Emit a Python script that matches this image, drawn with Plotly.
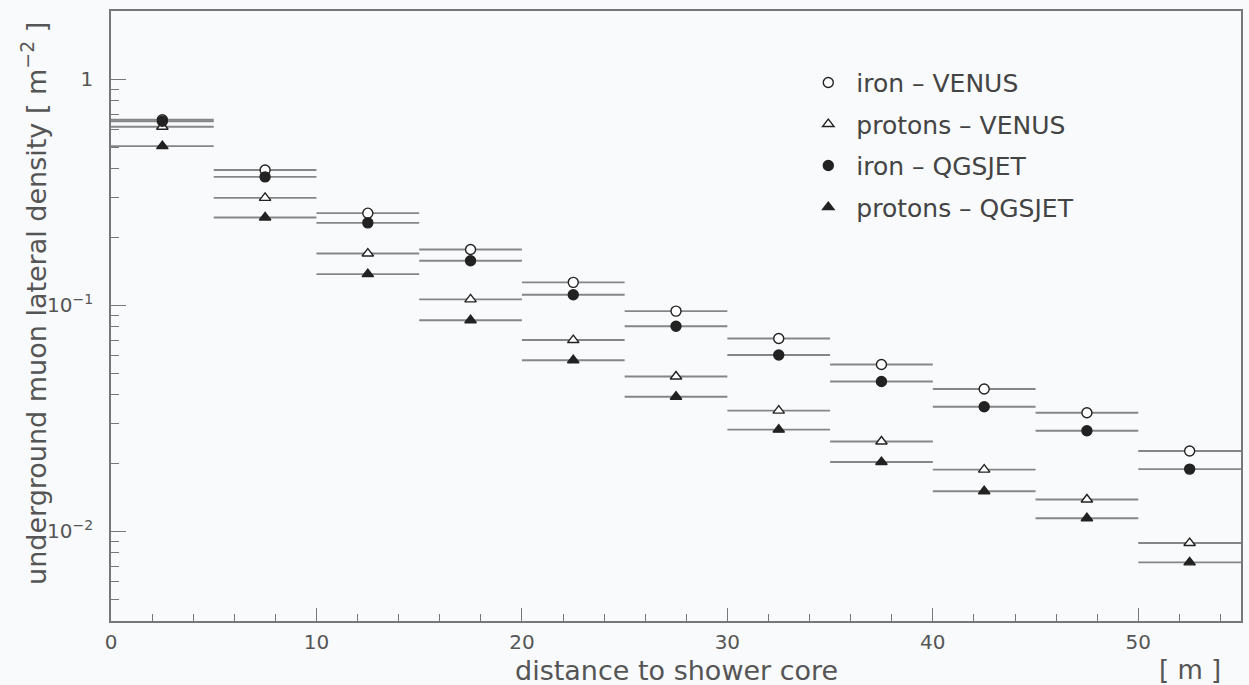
import plotly.graph_objects as go

# Radial bins (m): centres and half-widths
r_center = [2.5, 7.5, 12.5, 17.5, 22.5, 27.5, 32.5, 37.5, 42.5, 47.5, 52.5]
r_halfwidth = [2.5] * len(r_center)

# Underground muon lateral density [m^-2]
iron_venus = [0.66, 0.396, 0.255, 0.176, 0.126, 0.094, 0.0711, 0.0546, 0.0425, 0.0334, 0.0226]
protons_venus = [0.615, 0.298, 0.169, 0.106, 0.070, 0.0483, 0.0341, 0.0249, 0.0187, 0.0138, 0.00885]
iron_qgsjet = [0.65, 0.369, 0.231, 0.157, 0.111, 0.0806, 0.0601, 0.0459, 0.0355, 0.0278, 0.0188]
protons_qgsjet = [0.505, 0.244, 0.137, 0.0857, 0.057, 0.0393, 0.0281, 0.0202, 0.0150, 0.0114, 0.00727]

y_tickvals = [0.01, 0.1, 1]
y_ticktext = ["10<sup>−2</sup>", "10<sup>−1</sup>", "1"]
y_minorvals = [0.004, 0.005, 0.006, 0.007, 0.008, 0.009,
               0.02, 0.03, 0.04, 0.05, 0.06, 0.07, 0.08, 0.09,
               0.2, 0.3, 0.4, 0.5, 0.6, 0.7, 0.8, 0.9, 2]

INK = "#222222"
BAR = "#868686"
AXIS = "#777777"
TXT = "#555555"
BG = "#f9fafc"
FONT = "DejaVu Sans"

series = [
    ("iron – VENUS", iron_venus, "circle", "white"),
    ("protons – VENUS", protons_venus, "triangle-up", "white"),
    ("iron – QGSJET", iron_qgsjet, "circle", INK),
    ("protons – QGSJET", protons_qgsjet, "triangle-up", INK),
]

fig = go.Figure()
for i, (name, vals, sym, fill) in enumerate(series):
    fig.add_trace(go.Scatter(
        x=r_center, y=vals, mode="markers", name=name,
        legendgroup=f"g{i}",
        marker=dict(symbol=sym, size=10, color=fill,
                    line=dict(color=INK, width=1.4)),
        error_x=dict(type="data", array=r_halfwidth, symmetric=True,
                     width=0, thickness=1.9, color=BAR),
    ))

fig.update_layout(
    width=1249, height=685,
    margin=dict(l=111, r=6, t=11, b=64),
    paper_bgcolor=BG, plot_bgcolor=BG,
    font=dict(family=FONT, color=TXT),
    showlegend=True,
    legend=dict(
        x=0.610, y=0.92, xanchor="left", yanchor="top",
        bgcolor="rgba(0,0,0,0)", borderwidth=0,
        font=dict(family=FONT, size=25, color="#444444"),
        itemwidth=46, tracegroupgap=6,
    ),
    xaxis=dict(
        range=[0, 55], tickmode="array", tickvals=[0, 10, 20, 30, 40, 50],
        ticks="inside", ticklen=13, tickwidth=1.3, tickcolor=AXIS,
        minor=dict(dtick=2, tick0=0, ticks="inside", ticklen=7,
                   tickwidth=1.2, tickcolor=AXIS, showgrid=False),
        showline=True, linecolor=AXIS, linewidth=1.6, mirror=True,
        showgrid=False, zeroline=False,
        tickfont=dict(family=FONT, size=20, color=TXT),
        ticklabelstandoff=2,
    ),
    yaxis=dict(
        type="log", range=[-2.39794, 0.30103],
        tickmode="array", tickvals=y_tickvals, ticktext=y_ticktext,
        ticks="inside", ticklen=15, tickwidth=1.3, tickcolor=AXIS,
        minor=dict(tickvals=y_minorvals, ticks="inside", ticklen=8,
                   tickwidth=1.2, tickcolor=AXIS, showgrid=False),
        showline=True, linecolor=AXIS, linewidth=1.6, mirror=True,
        showgrid=False, zeroline=False,
        tickfont=dict(family=FONT, size=20, color=TXT),
        ticklabelstandoff=12,
    ),
    annotations=[
        dict(text="distance to shower core", xref="paper", yref="paper",
             x=0.5, y=-0.052, xanchor="center", yanchor="top", showarrow=False,
             font=dict(family=FONT, size=27, color=TXT)),
        dict(text="[ m ]", xref="paper", yref="paper",
             x=0.955, y=-0.052, xanchor="center", yanchor="top", showarrow=False,
             font=dict(family=FONT, size=26, color=TXT)),
        dict(text="underground muon lateral density [ m<sup>−2</sup> ]",
             xref="paper", yref="paper", x=-0.068, y=0.52,
             xanchor="center", yanchor="middle", textangle=-90, showarrow=False,
             font=dict(family=FONT, size=27, color=TXT)),
    ],
)

fig.write_html("out.html")
